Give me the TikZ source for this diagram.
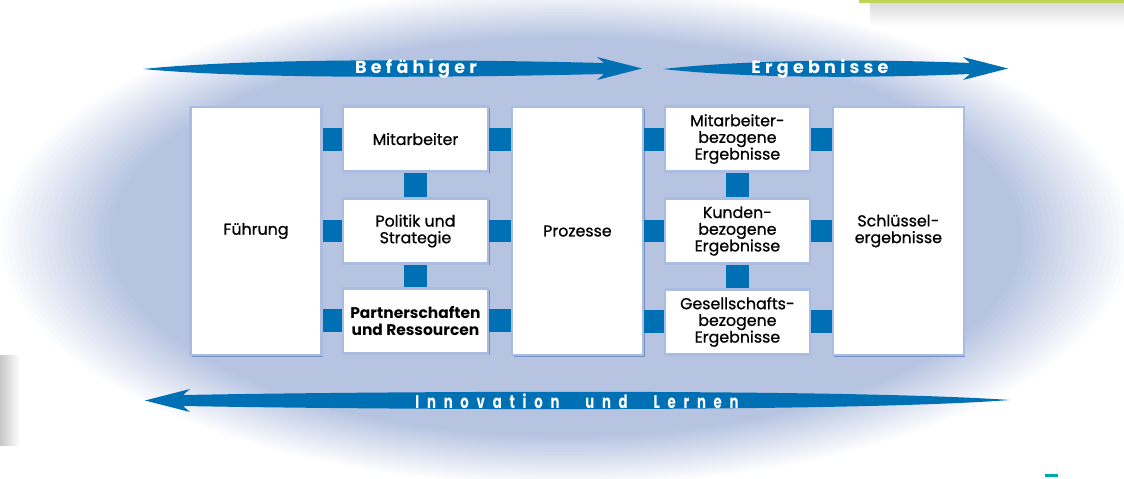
\documentclass[tikz,border=0pt]{standalone}
\usepackage{fontspec}
\setmainfont{Poppins}
\newfontfamily\boxfont[FakeBold=0.8]{Poppins}
\newfontfamily\spacedfont[LetterSpace=24]{Poppins}
\newfontfamily\narrowfont[LetterSpace=42,FakeStretch=0.72]{Poppins}
\usepackage{tikz}
\usetikzlibrary{positioning,shadows}
\usepackage{xcolor}
\definecolor{efqmblue}{RGB}{0,112,180}
\definecolor{efqmback}{RGB}{182,196,226}
\definecolor{efqmframe}{RGB}{170,188,224}
\definecolor{efqmshade}{RGB}{118,144,198}
\definecolor{efqmgreen}{RGB}{192,212,92}
\definecolor{efqmteal}{RGB}{0,168,170}
\tikzstyle{pillar} = [rectangle, minimum width=2.62cm, minimum height=4.96cm, text centered, align=center, fill=white, draw=efqmframe, line width=1.2pt, font=\boxfont\fontsize{9}{9.5}\selectfont, drop shadow={shadow xshift=0.9pt, shadow yshift=-0.9pt, fill=efqmshade, opacity=1}]
\tikzstyle{criterion} = [pillar, minimum width=2.9cm, minimum height=1.3cm]
\tikzstyle{link} = [line width=0.46cm, color=efqmblue]
\tikzstyle{flow} = [fill=efqmblue]
\tikzstyle{flowtext} = [text=white, font=\spacedfont\bfseries\fontsize{10}{10}\selectfont]

\begin{document}
\begin{tikzpicture}[x=0.02cm, y=-0.02cm]
\useasboundingbox (0,0) rectangle (1124,479);
% Background glow and page remnants
\foreach \k in {0,...,20} {
  \pgfmathsetmacro\rx{11.4*(1-0.01*\k)}
  \pgfmathsetmacro\ry{5.0*(1-0.01*\k)}
  \pgfmathtruncatemacro\p{5*\k}
  \fill[efqmback!\p!white] (566,237) ellipse [x radius=\rx cm, y radius=\ry cm];
}
\fill[top color=black!14, bottom color=white] (870,3) rectangle (1124,26);
\fill[efqmgreen] (859,0) rectangle (1124,3);
\fill[left color=black!22, right color=white] (0,355) rectangle (20,445);
\fill[efqmteal] (1045,474) rectangle (1058,477);

% Enablers
\node (fuehrung) [pillar] at (256,231) {Führung};
\node (politik) [criterion, right of=fuehrung, node distance=3.19cm] {Politik und\\Strategie};
\node (mitarbeiter) [criterion, above of=politik, node distance=1.84cm] {Mitarbeiter};
\node (partner) [criterion, below of=politik, node distance=1.8cm, font=\bfseries\fontsize{8.8}{9.6}\selectfont] {Partnerschaften\\und Ressourcen};
\node (prozesse) [pillar, right of=politik, node distance=3.24cm] {Prozesse};

% Results
\node (kunden) [criterion, right of=prozesse, node distance=3.2cm] {Kunden-\\bezogene\\Ergebnisse};
\node (mitergebnis) [criterion, above of=kunden, node distance=1.84cm] {Mitarbeiter-\\bezogene\\Ergebnisse};
\node (gesergebnis) [criterion, below of=kunden, node distance=1.82cm] {Gesellschafts-\\bezogene\\Ergebnisse};
\node (schluessel) [pillar, right of=kunden, node distance=3.22cm] {Schlüssel-\\ergebnisse};

% Links
\draw[link] (fuehrung.east |- mitarbeiter) -- (mitarbeiter.west);
\draw[link] (fuehrung.east |- politik) -- (politik.west);
\draw[link] (fuehrung.east |- partner) -- (partner.west);
\draw[link] (mitarbeiter.east) -- (prozesse.west |- mitarbeiter);
\draw[link] (politik.east) -- (prozesse.west |- politik);
\draw[link] (partner.east) -- (prozesse.west |- partner);
\draw[link] (prozesse.east |- mitergebnis) -- (mitergebnis.west);
\draw[link] (prozesse.east |- kunden) -- (kunden.west);
\draw[link] (prozesse.east |- gesergebnis) -- (gesergebnis.west);
\draw[link] (mitergebnis.east) -- (schluessel.west |- mitergebnis);
\draw[link] (kunden.east) -- (schluessel.west |- kunden);
\draw[link] (gesergebnis.east) -- (schluessel.west |- gesergebnis);
\draw[link] (mitarbeiter.south) -- (politik.north);
\draw[link] (politik.south) -- (partner.north);
\draw[link] (mitergebnis.south) -- (kunden.north);
\draw[link] (kunden.south) -- (gesergebnis.north);

% Flow arrows
\fill[flow] (143,69) .. controls (260,57) and (480,60) .. (604,63) -- (597,57) -- (642,68.5) -- (597,80) -- (604,74) .. controls (480,77) and (260,80) .. (143,69) -- cycle;
\fill[flow] (663,69) .. controls (760,58) and (900,60) .. (970,63) -- (963,57) -- (1008,68.5) -- (963,80) -- (970,74) .. controls (900,77) and (760,80) .. (663,69) -- cycle;
\fill[flow] (1010,400) .. controls (850,389) and (400,391) .. (183,395) -- (190,389) -- (145,400.5) -- (190,412) -- (183,406) .. controls (400,410) and (850,412) .. (1010,400) -- cycle;
\node (befaehiger) [flowtext] at (416,69) {Befähiger};
\node (ergebnisse) [flowtext] at (820,69) {Ergebnisse};
\node (innovation) [flowtext, font=\narrowfont\bfseries\fontsize{10.5}{10.5}\selectfont] at (577,401) {Innovation\hspace{1.4em}und\hspace{1.4em}Lernen};
\end{tikzpicture}
\end{document}
